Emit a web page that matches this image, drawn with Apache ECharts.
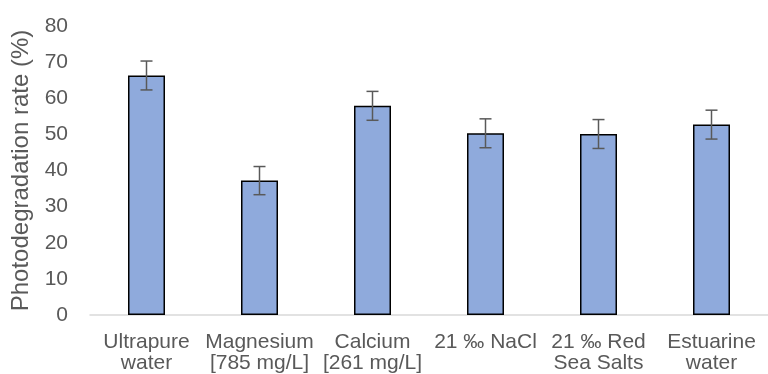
<!DOCTYPE html>
<html>
<head>
<meta charset="utf-8">
<script src="https://cdn.jsdelivr.net/npm/echarts@6/dist/echarts.min.js"></script>
<style>
html,body{margin:0;padding:0;background:#fff;}
#chart{width:768px;height:374px;}
</style>
</head>
<body>
<div id="chart"></div>
<script>
const categories = ['Ultrapure\nwater', 'Magnesium\n[785 mg/L]', 'Calcium\n[261 mg/L]', '21 ‰ NaCl', '21 ‰ Red\nSea Salts', 'Estuarine\nwater'];
const rates = [66.3, 37.2, 57.9, 50.3, 50.1, 52.7];
const errors = [4.0, 3.9, 4.0, 4.0, 4.0, 4.0];
const yTicks = [0, 10, 20, 30, 40, 50, 60, 70, 80];

const font = 'Liberation Sans, Arial, sans-serif';
const textColor = '#595959';

const chart = echarts.init(document.getElementById('chart'));
chart.setOption({
  animation: false,
  grid: { left: 90, right: -9, top: 26, bottom: 59, containLabel: false },
  xAxis: {
    type: 'category',
    data: categories,
    axisLine: { show: true, lineStyle: { color: '#D9D9D9', width: 1.5 } },
    axisTick: { show: false },
    axisLabel: { color: textColor, fontFamily: font, fontSize: 21, lineHeight: 21, margin: 17, interval: 0 }
  },
  yAxis: {
    type: 'value',
    min: yTicks[0],
    max: yTicks[yTicks.length - 1],
    interval: 10,
    name: 'Photodegradation rate (%)',
    nameLocation: 'middle',
    nameRotate: 90,
    nameGap: 55,
    nameTextStyle: { color: textColor, fontFamily: font, fontSize: 24 },
    axisLine: { show: false },
    axisTick: { show: false },
    splitLine: { show: false },
    axisLabel: { color: textColor, fontFamily: font, fontSize: 21, margin: 22 }
  },
  series: [
    {
      type: 'bar',
      data: rates,
      barWidth: 37,
      itemStyle: { color: '#8FAADC', borderColor: '#000000', borderWidth: 1.5 }
    },
    {
      type: 'custom',
      data: rates.map((v, i) => [i, v - errors[i], v + errors[i]]),
      z: 10,
      renderItem: function (params, api) {
        const x = api.value(0);
        const lo = api.coord([x, api.value(1)]);
        const hi = api.coord([x, api.value(2)]);
        const hw = 6;
        const style = { stroke: '#595959', lineWidth: 1.5 };
        return {
          type: 'group',
          children: [
            { type: 'line', shape: { x1: lo[0], y1: lo[1], x2: hi[0], y2: hi[1] }, style: style },
            { type: 'line', shape: { x1: lo[0] - hw, y1: lo[1], x2: lo[0] + hw, y2: lo[1] }, style: style },
            { type: 'line', shape: { x1: hi[0] - hw, y1: hi[1], x2: hi[0] + hw, y2: hi[1] }, style: style }
          ]
        };
      }
    }
  ]
});
</script>
</body>
</html>
